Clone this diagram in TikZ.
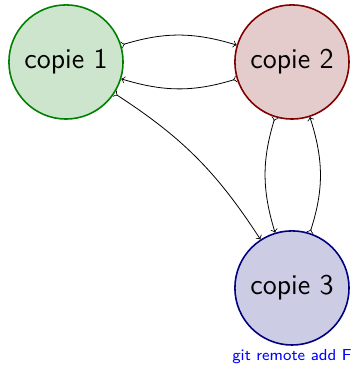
\documentclass[tikz,border=0pt]{standalone}
\usepackage{tikz}
\tikzset{
  copie/.style={circle, thick, minimum size=2.02cm, inner sep=0pt, font=\Large\sffamily},
  lien/.style={>->, >=to}
}

\begin{document}
\begin{tikzpicture}
\useasboundingbox (-1.168, 1.097) rectangle (5.097, -5.47);
\node[copie, draw=green!50!black, fill=green!50!black!20] (c1) at (0, 0) {copie 1};
\node[copie, draw=red!50!black, fill=red!50!black!20] (c2) at (4, 0) {copie 2};
\node[copie, draw=blue!50!black, fill=blue!50!black!20] (c3) at (4, -4) {copie 3};
\node[font=\footnotesize\sffamily, text=blue] (remote) at (4, -5.22) {git remote add F};

\draw[lien] (c1) to[bend left=17] (c2);
\draw[lien] (c2) to[bend left=17] (c1);
\draw[lien] (c1) to[bend left=12] (c3);
\draw[lien] (c2) to[bend right=17] (c3);
\draw[lien] (c3) to[bend right=18] (c2);
\end{tikzpicture}
\end{document}
